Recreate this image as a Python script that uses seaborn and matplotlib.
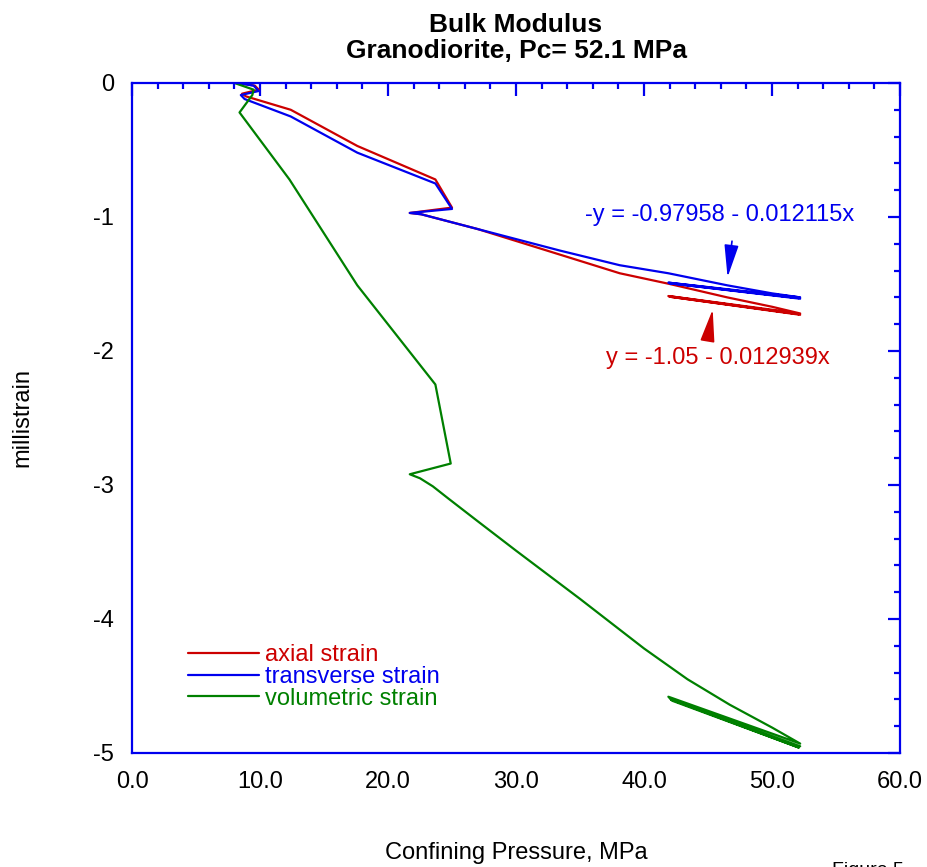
import numpy as np
import pandas as pd
import matplotlib
matplotlib.use('Agg')
import matplotlib.pyplot as plt
import seaborn as sns
from matplotlib.ticker import MultipleLocator, FormatStrFormatter

# confining pressure (MPa) and strain (millistrain)
axial_p = [8.2, 9.6, 9.9, 8.6, 8.9, 12.4, 17.6, 23.7, 25.0, 21.7, 22.6, 27.0, 33.4,
           38.1, 42.0, 46.5, 50.0, 52.2, 41.9, 52.1, 42.0, 52.2]
axial_e = [0.0, -0.02, -0.05, -0.08, -0.10, -0.20, -0.47, -0.72, -0.93, -0.97, -0.98,
           -1.09, -1.28, -1.42, -1.50, -1.60, -1.67, -1.72, -1.59, -1.725, -1.595, -1.73]

transverse_p = [8.2, 9.5, 9.9, 8.5, 8.8, 12.4, 17.6, 23.7, 25.0, 21.7, 22.6, 27.0,
                33.4, 38.1, 41.9, 46.5, 50.0, 52.2, 41.9, 52.1, 42.0, 52.2]
transverse_e = [0.0, -0.02, -0.06, -0.09, -0.12, -0.25, -0.52, -0.75, -0.94, -0.97,
                -0.98, -1.09, -1.25, -1.36, -1.42, -1.51, -1.57, -1.60, -1.49, -1.605,
                -1.495, -1.61]

volumetric_p = [8.0, 9.5, 9.4, 8.4, 12.3, 17.6, 23.7, 24.9, 21.7, 22.5, 23.5, 24.7,
                27.0, 30.0, 35.0, 40.0, 43.4, 46.7, 50.0, 52.2, 41.9, 42.2, 52.1, 42.1, 52.2]
volumetric_e = [0.0, -0.05, -0.09, -0.22, -0.72, -1.51, -2.25, -2.84, -2.92, -2.95,
                -3.01, -3.10, -3.27, -3.49, -3.85, -4.22, -4.45, -4.64, -4.81, -4.93,
                -4.58, -4.61, -4.96, -4.60, -4.95]

series_names = ['axial strain', 'transverse strain', 'volumetric strain']
colors = ['#cc0000', '#0000ee', '#008000']

df = pd.concat([
    pd.DataFrame({'p': axial_p, 'e': axial_e, 'series': series_names[0]}),
    pd.DataFrame({'p': transverse_p, 'e': transverse_e, 'series': series_names[1]}),
    pd.DataFrame({'p': volumetric_p, 'e': volumetric_e, 'series': series_names[2]}),
], ignore_index=True)

sns.set_style('white')
plt.rcParams['font.family'] = ['Liberation Sans', 'DejaVu Sans']
plt.rcParams['axes.unicode_minus'] = False
plt.rcParams['text.color'] = 'black'
plt.rcParams['axes.labelcolor'] = 'black'

fig = plt.figure(figsize=(9.27, 8.67), dpi=100)
ax = fig.add_axes([0.1424, 0.1315, 0.8285, 0.7728])

sns.lineplot(data=df, x='p', y='e', hue='series', palette=colors, sort=False,
             estimator=None, linewidth=1.6, ax=ax)

ax.set_xlim(0, 60)
ax.set_ylim(-5, 0)
ax.xaxis.set_major_locator(MultipleLocator(10))
ax.xaxis.set_minor_locator(MultipleLocator(2))
ax.yaxis.set_major_locator(MultipleLocator(1))
ax.yaxis.set_minor_locator(MultipleLocator(0.2))
ax.xaxis.set_major_formatter(FormatStrFormatter('%.1f'))
ax.yaxis.set_major_formatter(FormatStrFormatter('%d'))

blue = '#0000ee'
for s in ax.spines.values():
    s.set_color(blue)
    s.set_linewidth(1.6)
ax.tick_params(which='both', direction='in', color=blue, labelcolor='black',
               top=True, right=True, width=1.6)
ax.tick_params(which='major', length=9, labelsize=17)
ax.tick_params(which='minor', length=4.5)
ax.tick_params(axis='x', pad=13)
ax.tick_params(axis='y', pad=13)

ax.set_xlabel('Confining Pressure, MPa', fontsize=17, va='center')
ax.xaxis.set_label_coords(0.5, -0.149)
ax.set_ylabel('millistrain', fontsize=17, va='center')
ax.yaxis.set_label_coords(-0.143, 0.5)
ax.set_title('Bulk Modulus\nGranodiorite, Pc= 52.1 MPa', fontsize=19,
             fontweight='bold', pad=18, linespacing=1.1, color='black')

# fit annotations
ax.text(45.9, -0.985, '-y = -0.97958 - 0.012115x', color=blue, fontsize=17,
        ha='center', va='center')
ax.annotate('', xy=(46.5, -1.47), xytext=(46.9, -1.16),
            arrowprops=dict(arrowstyle='-|>,head_length=1.0,head_width=0.22',
                            color=blue, lw=1.2, mutation_scale=20))
ax.text(45.8, -2.05, 'y = -1.05 - 0.012939x', color='#cc0000', fontsize=17,
        ha='center', va='center')
ax.annotate('', xy=(45.4, -1.67), xytext=(45.0, -1.90),
            arrowprops=dict(arrowstyle='-|>,head_length=1.0,head_width=0.22',
                            color='#cc0000', lw=1.2, mutation_scale=20))

handles, labels = ax.get_legend_handles_labels()
ax.legend(handles, labels, loc='upper left', bbox_to_anchor=(0.073, 0.162),
          frameon=False, fontsize=17, handlelength=3.0, handletextpad=0.25,
          labelspacing=-0.02, borderpad=0, borderaxespad=0, labelcolor='linecolor')

fig.text(0.898, 0.006, 'Figure 5', fontsize=14, ha='left', va='top')

fig.savefig('out.png', dpi=100)
